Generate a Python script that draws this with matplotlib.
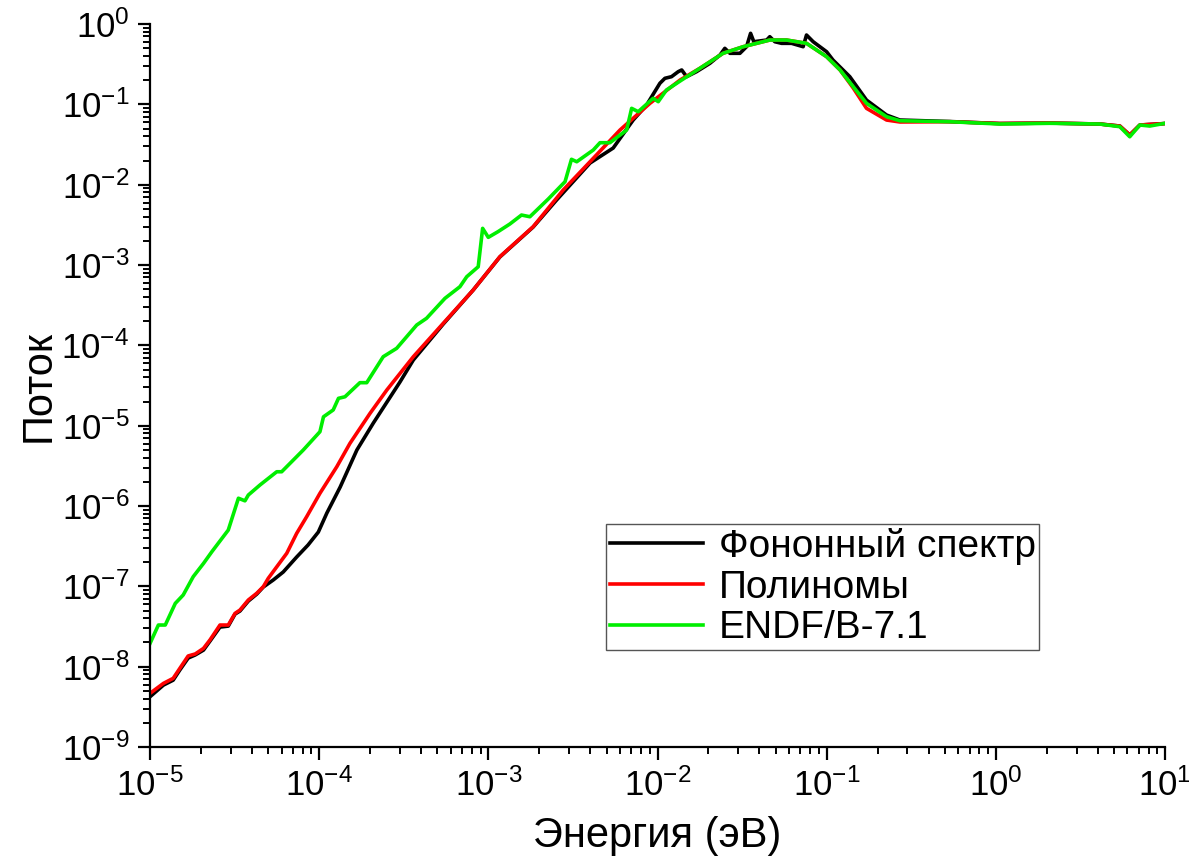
import numpy as np
import matplotlib
matplotlib.use("Agg")
import matplotlib.pyplot as plt
from matplotlib.ticker import LogLocator, NullFormatter

plt.rcParams['font.family'] = ['Liberation Sans', 'DejaVu Sans']
plt.rcParams['mathtext.fontset'] = 'custom'
plt.rcParams['mathtext.rm'] = 'Liberation Sans'
plt.rcParams['mathtext.it'] = 'Liberation Sans'
plt.rcParams['mathtext.default'] = 'regular'

# Фононный спектр
phonon_e = [1.0e-5, 1.20e-5, 1.37e-5, 1.50e-5, 1.68e-5, 1.85e-5, 2.07e-5, 2.26e-5, 2.59e-5, 2.90e-5,
            3.18e-5, 3.40e-5, 3.81e-5, 4.27e-5, 4.67e-5, 5.35e-5, 6.13e-5, 7.36e-5, 8.59e-5, 9.88e-5,
            1.11e-4, 1.33e-4, 1.67e-4, 2.09e-4, 3.0e-4, 3.6e-4, 5.41e-4, 8.14e-4, 1.17e-3, 1.84e-3,
            2.53e-3, 3.99e-3, 5.47e-3, 7.18e-3, 8.62e-3, 1.033e-2, 1.106e-2, 1.21e-2, 1.325e-2, 1.39e-2,
            1.486e-2, 1.70e-2, 2.04e-2, 2.34e-2, 2.50e-2, 2.68e-2, 3.07e-2, 3.36e-2, 3.55e-2, 3.71e-2,
            4.42e-2, 4.61e-2, 4.94e-2, 5.41e-2, 6.20e-2, 7.26e-2, 7.60e-2, 8.32e-2, 9.99e-2, 0.109,
            0.137, 0.172, 0.226, 0.271, 0.535, 1.056, 2.08, 4.12, 5.41, 6.19, 7.10, 10.0]
phonon_f = [4.23e-9, 5.9e-9, 6.8e-9, 9.1e-9, 1.28e-8, 1.40e-8, 1.61e-8, 2.08e-8, 3.11e-8, 3.2e-8,
            4.52e-8, 4.93e-8, 6.56e-8, 8.0e-8, 9.8e-8, 1.2e-7, 1.51e-7, 2.32e-7, 3.27e-7, 4.74e-7,
            8.18e-7, 1.72e-6, 4.98e-6, 1.08e-5, 3.49e-5, 6.57e-5, 1.84e-4, 4.89e-4, 1.26e-3, 2.97e-3,
            6.44e-3, 1.86e-2, 2.86e-2, 6.38e-2, 9.81e-2, 0.183, 0.211, 0.221, 0.255, 0.268,
            0.221, 0.255, 0.324, 0.411, 0.498, 0.432, 0.432, 0.522, 0.766, 0.602,
            0.632, 0.695, 0.602, 0.575, 0.575, 0.522, 0.730, 0.602, 0.452, 0.356,
            0.221, 0.113, 0.0736, 0.0638, 0.0611, 0.0577, 0.0585, 0.0569, 0.0537, 0.0415, 0.0553, 0.0577]

# Полиномы
poly_e = [1.0e-5, 1.20e-5, 1.37e-5, 1.50e-5, 1.68e-5, 1.85e-5, 2.07e-5, 2.26e-5, 2.59e-5, 2.90e-5,
          3.18e-5, 3.40e-5, 3.81e-5, 4.27e-5, 4.67e-5, 5.0e-5, 5.61e-5, 6.43e-5, 7.36e-5, 8.43e-5,
          1.01e-4, 1.27e-4, 1.52e-4, 2.0e-4, 2.51e-4, 3.6e-4, 5.41e-4, 8.14e-4, 1.17e-3, 1.84e-3,
          2.77e-3, 3.99e-3, 6.0e-3, 9.02e-3, 1.36e-2, 1.78e-2, 2.44e-2, 3.21e-2, 4.61e-2, 5.79e-2,
          7.60e-2, 9.99e-2, 0.120, 0.1435, 0.172, 0.226, 0.271, 0.535, 1.056, 2.08,
          4.12, 5.41, 6.19, 7.10, 10.0]
poly_f = [4.66e-9, 6.2e-9, 7.16e-9, 9.53e-9, 1.36e-8, 1.44e-8, 1.69e-8, 2.15e-8, 3.30e-8, 3.30e-8,
          4.61e-8, 5.07e-8, 6.76e-8, 8.19e-8, 9.89e-8, 1.26e-7, 1.75e-7, 2.58e-7, 4.57e-7, 7.36e-7,
          1.44e-6, 3.08e-6, 6.03e-6, 1.43e-5, 2.78e-5, 7.22e-5, 1.88e-4, 4.89e-4, 1.27e-3, 3.0e-3,
          8.59e-3, 1.93e-2, 4.79e-2, 0.103, 0.201, 0.281, 0.432, 0.522, 0.632, 0.632,
          0.575, 0.392, 0.268, 0.160, 0.0892, 0.0638, 0.0603, 0.0608, 0.0577, 0.0585,
          0.0569, 0.0537, 0.0415, 0.0553, 0.0577]

# ENDF/B-7.1
endf_e = [1.0e-5, 1.12e-5, 1.23e-5, 1.41e-5, 1.57e-5, 1.80e-5, 2.07e-5, 2.32e-5, 2.90e-5, 3.33e-5,
          3.64e-5, 3.81e-5, 4.47e-5, 5.61e-5, 6.0e-5, 8.05e-5, 1.01e-4, 1.06e-4, 1.21e-4, 1.30e-4,
          1.42e-4, 1.74e-4, 1.91e-4, 2.39e-4, 2.87e-4, 3.77e-4, 4.31e-4, 5.54e-4, 6.79e-4, 7.45e-4,
          8.71e-4, 9.25e-4, 9.99e-4, 1.14e-3, 1.34e-3, 1.57e-3, 1.76e-3, 2.26e-3, 2.84e-3, 3.10e-3,
          3.33e-3, 4.17e-3, 4.57e-3, 5.23e-3, 6.57e-3, 7.03e-3, 7.69e-3, 9.43e-3, 1.01e-2, 1.13e-2,
          1.39e-2, 1.78e-2, 2.44e-2, 3.21e-2, 4.61e-2, 5.79e-2, 7.60e-2, 9.99e-2, 0.120, 0.1435,
          0.172, 0.226, 0.271, 0.535, 1.056, 2.08, 4.12, 5.41, 6.19, 7.10, 8.13, 10.0]
endf_f = [1.95e-8, 3.30e-8, 3.30e-8, 6.14e-8, 7.8e-8, 1.32e-7, 1.93e-7, 2.70e-7, 5.02e-7, 1.25e-6,
          1.16e-6, 1.37e-6, 1.83e-6, 2.67e-6, 2.67e-6, 4.98e-6, 8.41e-6, 1.29e-5, 1.57e-5, 2.19e-5,
          2.29e-5, 3.43e-5, 3.43e-5, 7.22e-5, 9.18e-5, 1.79e-4, 2.17e-4, 3.85e-4, 5.37e-4, 7.15e-4,
          9.52e-4, 2.86e-3, 2.21e-3, 2.60e-3, 3.24e-3, 4.19e-3, 3.99e-3, 6.63e-3, 1.09e-2, 2.07e-2,
          1.93e-2, 2.70e-2, 3.33e-2, 3.33e-2, 4.79e-2, 8.92e-2, 8.10e-2, 0.119, 0.108, 0.151,
          0.201, 0.281, 0.432, 0.522, 0.632, 0.632, 0.575, 0.392, 0.268, 0.166,
          0.103, 0.0702, 0.0625, 0.0608, 0.0569, 0.0581, 0.0569, 0.0527, 0.0395, 0.0553, 0.0537, 0.0581]

labels = ['Фононный спектр', 'Полиномы', 'ENDF/B-7.1']
colors = ['black', '#ff0000', '#00ee00']

fig = plt.figure(figsize=(11.89, 8.64), dpi=100)
ax = fig.add_axes([0.1262, 0.1354, 0.8536, 0.8368])

ax.plot(phonon_e, phonon_f, color=colors[0], lw=2.6, label=labels[0])
ax.plot(poly_e, poly_f, color=colors[1], lw=2.6, label=labels[1])
ax.plot(endf_e, endf_f, color=colors[2], lw=2.6, label=labels[2])

ax.set_xscale('log')
ax.set_yscale('log')
ax.set_xlim(1e-5, 10)
ax.set_ylim(1e-9, 1)

ax.xaxis.set_major_locator(LogLocator(base=10, numticks=20))
ax.yaxis.set_major_locator(LogLocator(base=10, numticks=20))
ax.xaxis.set_minor_locator(LogLocator(base=10, subs=np.arange(2, 10), numticks=20))
ax.yaxis.set_minor_locator(LogLocator(base=10, subs=np.arange(2, 10), numticks=20))
ax.xaxis.set_minor_formatter(NullFormatter())
ax.yaxis.set_minor_formatter(NullFormatter())

for side in ['top', 'right']:
    ax.spines[side].set_visible(False)
for side in ['left', 'bottom']:
    ax.spines[side].set_linewidth(1.6)

ax.tick_params(which='major', direction='out', length=9, width=1.6, labelsize=25, pad=6)
ax.tick_params(which='minor', direction='out', length=5, width=1.4)

ax.set_xlabel('Энергия (эВ)', fontsize=30, labelpad=10)
ax.set_ylabel('Поток', fontsize=30, labelpad=2)

leg = ax.legend(loc='lower left', bbox_to_anchor=(0.449, 0.134), borderaxespad=0,
                fontsize=28, frameon=True, fancybox=False, framealpha=1,
                edgecolor='#555555', borderpad=0.1, handlelength=2.4,
                handletextpad=0.4, labelspacing=0.12)
leg.get_frame().set_linewidth(1.0)

fig.savefig('out.png', dpi=100)
